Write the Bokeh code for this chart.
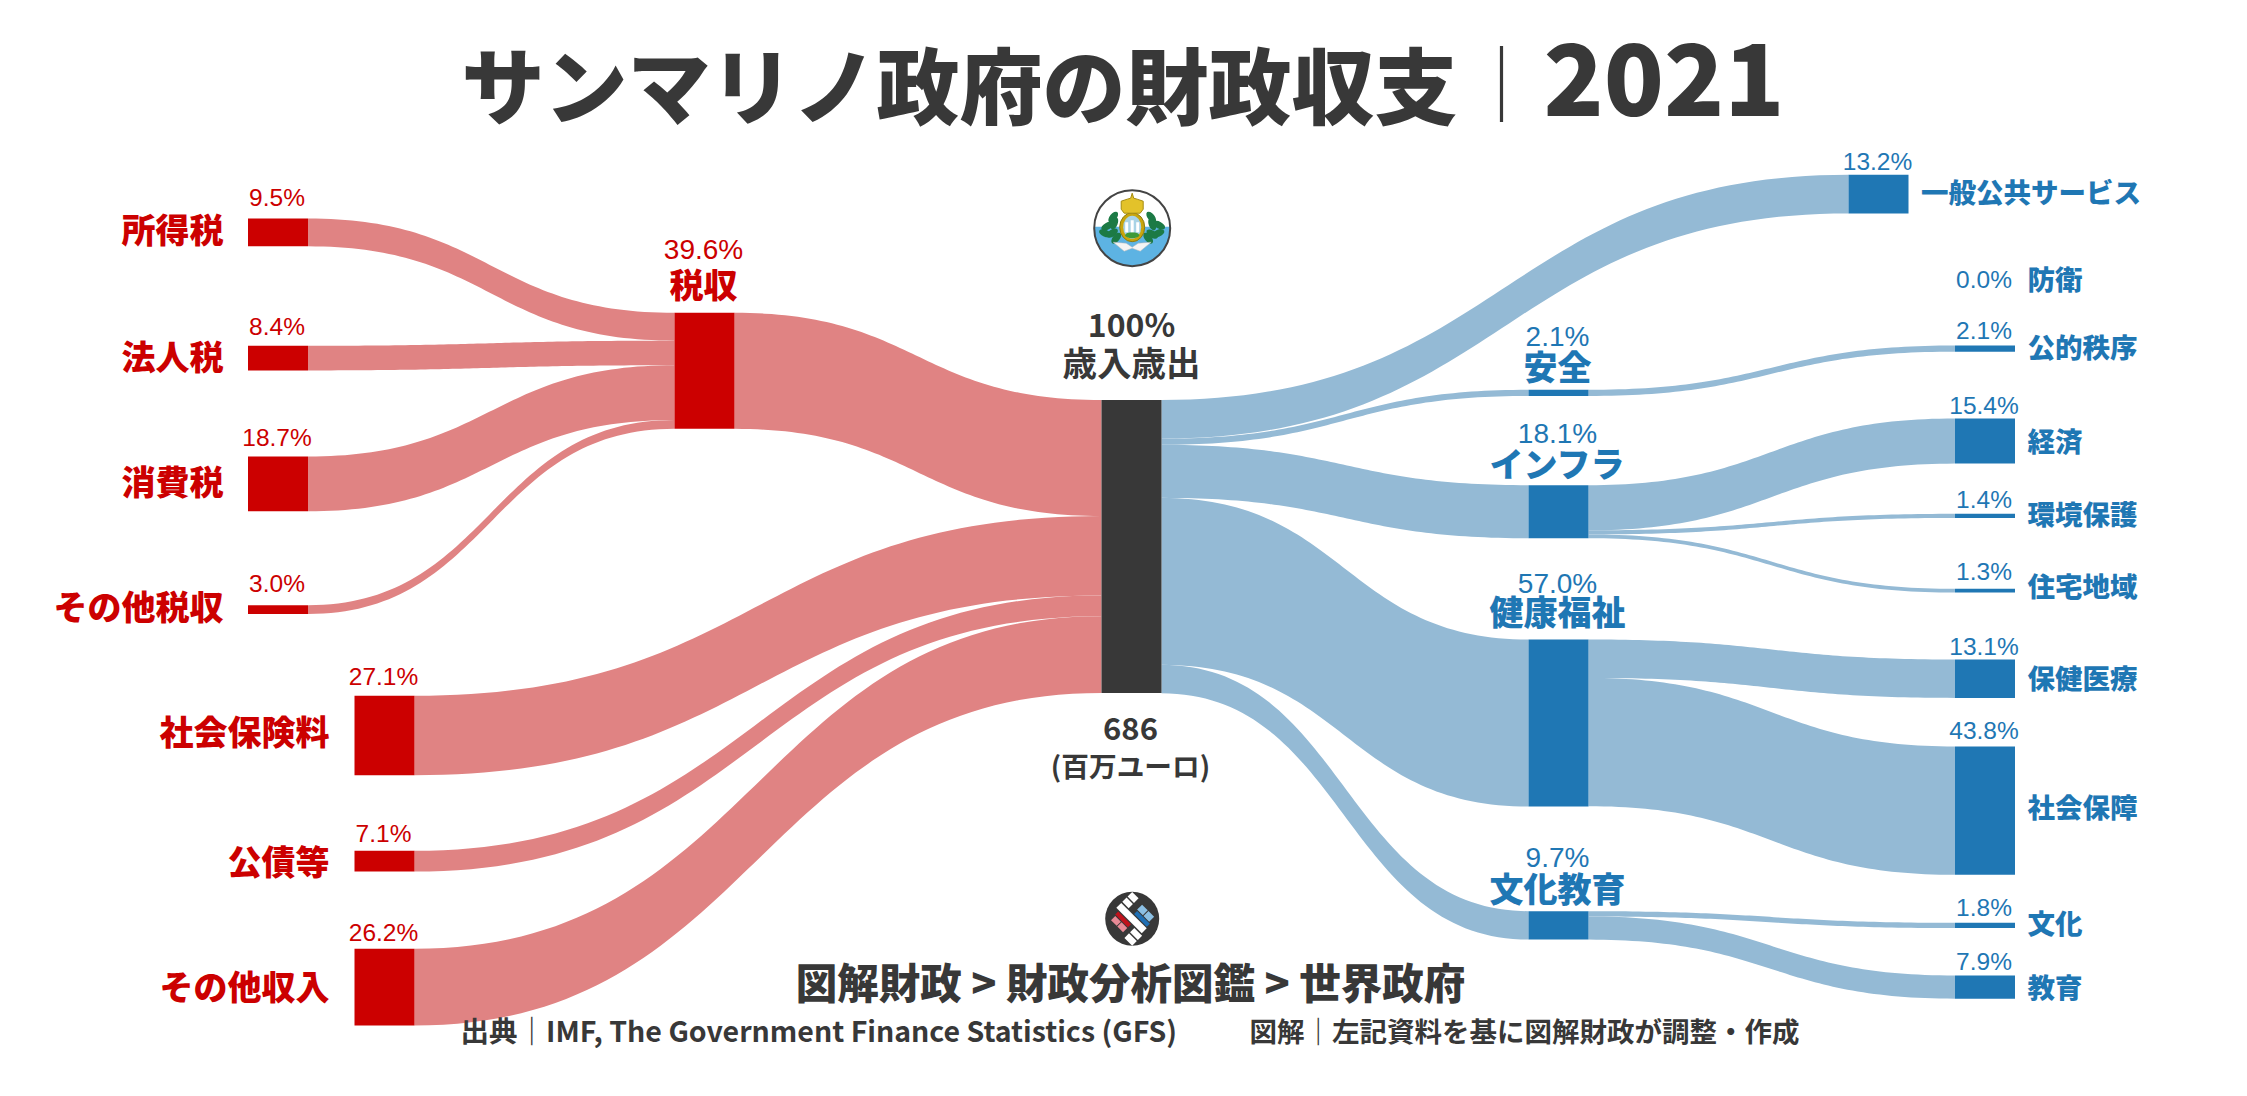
from bokeh.plotting import figure
from bokeh.embed import file_html
from bokeh.resources import INLINE
from bokeh.core.properties import value
import numpy as np

# ---------- data (percent of total revenue/expenditure) ----------
revenue_tax_names = ["所得税", "法人税", "消費税", "その他税収"]
revenue_tax_values = [9.5, 8.4, 18.7, 3.0]
revenue_other_names = ["社会保険料", "公債等", "その他収入"]
revenue_other_values = [27.1, 7.1, 26.2]
tax_total_name = "税収"
tax_total_value = 39.6
center_name = "歳入歳出"
center_value = 100.0
center_amount = "686"
center_unit = "(百万ユーロ)"
spend_group_names = ["安全", "インフラ", "健康福祉", "文化教育"]
spend_group_values = [2.1, 18.1, 57.0, 9.7]
spend_direct_name = "一般公共サービス"
spend_direct_value = 13.2
defense_name = "防衛"
defense_value = 0.0
safety_children = ["公的秩序"]
safety_values = [2.1]
infra_children = ["経済", "環境保護", "住宅地域"]
infra_values = [15.4, 1.4, 1.3]
welfare_children = ["保健医療", "社会保障"]
welfare_values = [13.1, 43.8]
culture_children = ["文化", "教育"]
culture_values = [1.8, 7.9]

title_main = "サンマリノ政府の財政収支"
title_sep = "｜"
title_year = "2021"
crumb_text = "図解財政 > 財政分析図鑑 > 世界政府"
source_text = "出典｜IMF, The Government Finance Statistics (GFS)"
credit_text = "図解｜左記資料を基に図解財政が調整・作成"

# ---------- styles & layout ----------
RED, RED_L = "#CC0000", "#E08383"
BLUE, BLUE_L = "#1F77B4", "#94BAD5"
DARK = "#383838"
JP = value("Noto Sans CJK JP")
JPB = value("Noto Sans CJK JP Black")
LATIN = value("Liberation Sans")
K = 2.93      # pixels per percent
NW = 60       # node width
COL = {"a": 247.5, "b": 354, "c": 674, "d": 1101, "e": 1528, "f": 1848, "g": 1954.5}

W, H = 2231, 1080
p = figure(width=W, height=H, x_range=(0, W), y_range=(H, 0),
           toolbar_location=None, output_backend="svg", min_border=0)
p.axis.visible = False
p.grid.visible = False
p.outline_line_color = None
p.background_fill_color = "white"
p.border_fill_color = "white"

nodes = {}
def add_nodes(names, vals, col, tops, color):
    for n, v, t in zip(names, vals, tops):
        nodes[n] = dict(x=COL[col], top=t, val=v, color=color, out=t, inn=t)

add_nodes(revenue_tax_names, revenue_tax_values, "a", [218, 345.3, 456, 604.7], RED)
add_nodes(revenue_other_names, revenue_other_values, "b", [695.3, 850.3, 948.3], RED)
add_nodes([tax_total_name], [tax_total_value], "c", [312.3], RED)
add_nodes([center_name], [center_value], "d", [399.5], DARK)
add_nodes(spend_group_names, spend_group_values, "e", [389.3, 484.7, 639, 910.7], BLUE)
add_nodes([spend_direct_name], [spend_direct_value], "f", [174.3], BLUE)
add_nodes(safety_children, safety_values, "g", [345], BLUE)
add_nodes(infra_children, infra_values, "g", [418, 513.3, 588.3], BLUE)
add_nodes(welfare_children, welfare_values, "g", [659, 746], BLUE)
add_nodes(culture_children, culture_values, "g", [922.3, 975], BLUE)

flows = []
for n, v in zip(revenue_tax_names, revenue_tax_values):
    flows.append((n, tax_total_name, v, RED_L))
flows.append((tax_total_name, center_name, tax_total_value, RED_L))
for n, v in zip(revenue_other_names, revenue_other_values):
    flows.append((n, center_name, v, RED_L))
flows.append((center_name, spend_direct_name, spend_direct_value, BLUE_L))
for n, v in zip(spend_group_names, spend_group_values):
    flows.append((center_name, n, v, BLUE_L))
for parent, kids, vals in [(spend_group_names[0], safety_children, safety_values),
                           (spend_group_names[1], infra_children, infra_values),
                           (spend_group_names[2], welfare_children, welfare_values),
                           (spend_group_names[3], culture_children, culture_values)]:
    for n, v in zip(kids, vals):
        flows.append((parent, n, v, BLUE_L))

t = np.linspace(0, 1, 70)
def bez(x0, y0, x1, y1):
    xm = (x0 + x1) / 2
    bx = (1-t)**3*x0 + 3*(1-t)**2*t*xm + 3*(1-t)*t**2*xm + t**3*x1
    by = (1-t)**3*y0 + 3*(1-t)**2*t*y0 + 3*(1-t)*t**2*y1 + t**3*y1
    return bx, by

xs, ys, cs = [], [], []
for s, d, v, c in flows:
    ns, nd = nodes[s], nodes[d]
    h = v * K
    x0, x1 = ns["x"] + NW, nd["x"]
    tx, ty = bez(x0, ns["out"], x1, nd["inn"])
    bx, by = bez(x0, ns["out"] + h, x1, nd["inn"] + h)
    ns["out"] += h
    nd["inn"] += h
    xs.append(np.concatenate([tx, bx[::-1]]).tolist())
    ys.append(np.concatenate([ty, by[::-1]]).tolist())
    cs.append(c)
p.patches(xs, ys, fill_color=cs, line_color=None)

names = list(nodes)
p.quad(left=[nodes[n]["x"] for n in names], right=[nodes[n]["x"] + NW for n in names],
       top=[nodes[n]["top"] for n in names],
       bottom=[nodes[n]["top"] + nodes[n]["val"] * K for n in names],
       fill_color=[nodes[n]["color"] for n in names], line_color=None)

def txt(x, y, s, size, color, font=JP, align="center", bold=True):
    p.text([x], [y], text=[s], text_font=font, text_font_size=f"{size}px",
           text_color=color, text_align=align, text_baseline="middle",
           text_font_style="bold" if bold else "normal")

def pct(n, y, size=24.5, color=BLUE):
    txt(nodes[n]["x"] + NW / 2 - 1, y, f"{nodes[n]['val']:.1f}%", size, color, font=LATIN, bold=False)

# title
txt(461, 81, title_main, 83, DARK, font=JPB, align="left")
txt(1501, 79, title_sep, 76, DARK, bold=False)
txt(1543, 78, title_year, 99, DARK, font=JPB, align="left")

# left labels
for n, y in zip(revenue_tax_names, [227.5, 354.5, 479.5, 604.5]):
    txt(223, y, n, 34, RED, font=JPB, align="right")
for n, y in zip(revenue_other_names, [730, 860, 985]):
    txt(329, y, n, 34, RED, font=JPB, align="right")
for n, y in zip(revenue_tax_names, [197, 326, 437, 583]):
    pct(n, y, color=RED)
for n, y in zip(revenue_other_names, [676, 833, 932]):
    pct(n, y, color=RED)
pct(tax_total_name, 249, 28, RED)
txt(703, 283, tax_total_name, 34, RED, font=JPB)

# center labels
txt(1131, 322, f"{center_value:.0f}%", 32, DARK)
txt(1131, 360.5, center_name, 34.5, DARK)
txt(1130, 728, center_amount, 31, DARK)
txt(1130, 764, center_unit, 27.7, DARK)

# mid-blue labels
for n, y, ly in zip(spend_group_names, [336, 433, 582.5, 857], [365, 462, 609.7, 887]):
    pct(n, y, 28)
    txt(1557, ly, n, 34, BLUE, font=JPB)

# right labels
pct(spend_direct_name, 161)
txt(1920.5, 190.5, spend_direct_name, 27.5, BLUE, font=JPB, align="left")
txt(1983.5, 279, f"{defense_value:.1f}%", 24.5, BLUE, font=LATIN, bold=False)
txt(2027, 277, defense_name, 27.5, BLUE, font=JPB, align="left")
right_names = safety_children + infra_children + welfare_children + culture_children
for n, py, ly in zip(right_names,
                     [330, 404.5, 498.5, 571, 646, 730, 907, 961],
                     [345, 439, 512, 584, 676, 805, 921, 985]):
    pct(n, py)
    txt(2027, ly, n, 27.5, BLUE, font=JPB, align="left")

# footer
txt(1130, 980, crumb_text, 41.5, DARK, font=JPB)
txt(460, 1029, source_text, 28.5, DARK, align="left")
txt(1249, 1029, credit_text, 27.5, DARK, align="left")

# ---------- flag emblem (decoration) ----------
fx, fy, r = 1131.7, 227.7, 38
th = np.linspace(-0.04, np.pi + 0.04, 60)
p.patch((fx + r * np.cos(th)).tolist(), (fy + r * np.sin(th)).tolist(), fill_color="#5DB3E3", line_color=None)
p.ellipse([fx], [fy], width=2 * r, height=2 * r, fill_color=None, line_color="#444444", line_width=2)
lf = [(-19, -11, 0.9), (-25, -2, 0.5), (-18, -5, 1.2), (-27, 5, -0.4), (-20, 5, 0.6), (-16, 10, 0.9),
      (19, -11, -0.9), (27, -3, -0.5), (20, -4, -1.2), (26, 5, 0.4), (20, 6, -0.6), (16, 10, -0.9)]
p.ellipse([fx + a for a, _, _ in lf], [fy + b for _, b, _ in lf], width=13, height=7,
          angle=[c for _, _, c in lf], fill_color="#1C7A45", line_color=None)
p.patch([fx - 19, fx - 6, fx, fx + 6, fx + 19, fx + 8, fx, fx - 8],
        [fy + 14, fy + 15, fy + 19, fy + 15, fy + 14, fy + 23, fy + 20, fy + 23],
        fill_color="#F4F4F4", line_color="#B9B9B9", line_width=0.5)
p.ellipse([fx], [fy - 1], width=25, height=29, fill_color="#C9A50C", line_color="#8A7A10", line_width=1)
p.ellipse([fx], [fy - 1], width=18, height=23, fill_color="#A9D3E6", line_color=None)
p.ellipse([fx], [fy + 7], width=14, height=6, fill_color="#3F9A3A", line_color=None)
p.quad(left=[fx - 7, fx - 1.5, fx + 4], right=[fx - 4, fx + 1.5, fx + 7],
       top=[fy - 6, fy - 8, fy - 6], bottom=[fy + 4, fy + 4, fy + 4], fill_color="white", line_color=None)
p.patch([fx - 11, fx - 11, fx - 5, fx - 1.5, fx, fx + 1.5, fx + 5, fx + 11, fx + 11, fx + 8, fx - 8],
        [fy - 19, fy - 27, fy - 29, fy - 30, fy - 35, fy - 30, fy - 29, fy - 27, fy - 19, fy - 15, fy - 15],
        fill_color="#E3C22A", line_color="#A68C10", line_width=1)

# ---------- site logo (decoration) ----------
lx, ly, lr = 1131.7, 918.3, 27
p.ellipse([lx], [ly], width=2 * lr, height=2 * lr, fill_color=DARK, line_color=None)
def cell(u0, u1, v0, v1, color):
    s = 0.7071
    corners = [(u0, v0), (u1, v0), (u1, v1), (u0, v1)]
    p.patch([lx + (u + v) * s for u, v in corners], [ly + (u - v) * s for u, v in corners],
            fill_color=color, line_color=None)
cell(-19, 17, -3.5, 3.5, "white")
cell(-19, -10, 5, 11, "white")
cell(-19, -10, 12.5, 19, "white")
cell(8, 19, -11, -5, "white")
cell(8, 19, -19, -12.5, "white")
cell(-15, 3, -9, -4.7, "#C1121C")
cell(-14, -6, -16, -10, "#E88A96")
cell(-5, 3, -16, -10, "#E88A96")
cell(-2, 16, 4.7, 9, "#1F6FB4")
cell(-3, 5, 10, 17, "#8CC0E4")
cell(6, 14, 10, 17, "#8CC0E4")

open("out.html", "w").write(file_html(p, INLINE))
